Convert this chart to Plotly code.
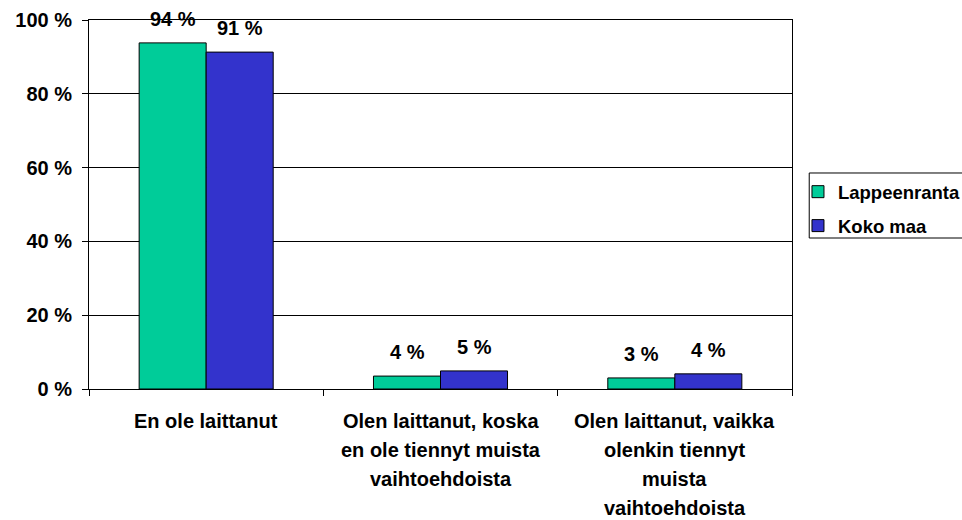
import plotly.graph_objects as go

categories = ["En ole laittanut",
              "Olen laittanut, koska<br>en ole tiennyt muista<br>vaihtoehdoista",
              "Olen laittanut, vaikka<br>olenkin tiennyt<br>muista<br>vaihtoehdoista"]
series_names = ["Lappeenranta", "Koko maa"]
lappeenranta = [93.8, 3.5, 3.0]
koko_maa = [91.3, 4.9, 4.1]
value_labels_lpr = ["94 %", "4 %", "3 %"]
value_labels_koko = ["91 %", "5 %", "4 %"]

FONT = "Liberation Sans, Arial, sans-serif"
fs = 20
fs_leg = 18.5

fig = go.Figure()
fig.add_trace(go.Bar(name=series_names[0], x=categories, y=lappeenranta, legend="legend",
                     marker=dict(color="#00CC99", line=dict(color="black", width=1))))
fig.add_trace(go.Bar(name=series_names[1], x=categories, y=koko_maa, legend="legend2",
                     marker=dict(color="#3333CC", line=dict(color="black", width=1))))

half_bar = 33.5
for cat, v, t in zip(categories, lappeenranta, value_labels_lpr):
    fig.add_annotation(x=cat, y=v, text=t, showarrow=False, xshift=-half_bar,
                       yanchor="bottom", yshift=11,
                       font=dict(family=FONT, size=fs, color="black", weight="bold"))
for cat, v, t in zip(categories, koko_maa, value_labels_koko):
    fig.add_annotation(x=cat, y=v, text=t, showarrow=False, xshift=half_bar,
                       yanchor="bottom", yshift=11,
                       font=dict(family=FONT, size=fs, color="black", weight="bold"))

# category labels, one annotation per line
for cat in categories:
    for i, line in enumerate(cat.split("<br>")):
        fig.add_annotation(x=cat, y=0, xref="x", yref="paper", text=line,
                           showarrow=False, yanchor="middle", yshift=-(31.5 + 29.3 * i),
                           font=dict(family=FONT, size=fs, color="black", weight="bold"))

# legend frame
fig.add_shape(type="rect", xref="paper", yref="paper",
              x0=1.0245, x1=1.3, y0=0.4092, y1=0.5854,
              line=dict(color="black", width=1), fillcolor="rgba(0,0,0,0)", layer="above")

leg_common = dict(xanchor="left", yanchor="top", borderwidth=0,
                  bgcolor="rgba(0,0,0,0)", itemwidth=30,
                  font=dict(family=FONT, size=fs_leg, color="black", weight="bold"))

fig.update_layout(
    width=962, height=520,
    margin=dict(l=89, r=170, t=20, b=131, autoexpand=False),
    paper_bgcolor="white", plot_bgcolor="white",
    barmode="group", bargap=0.428, bargroupgap=0,
    font=dict(family=FONT, size=fs, color="black", weight="bold"),
    showlegend=True,
    legend=dict(x=1.0085, y=0.585, **leg_common),
    legend2=dict(x=1.0085, y=0.493, **leg_common),
)
fig.update_xaxes(type="category", showline=True, linecolor="black", linewidth=1,
                 mirror=True, ticks="outside", tickson="boundaries", ticklen=6,
                 tickcolor="black", showticklabels=False, showgrid=False)
fig.update_yaxes(range=[0, 100], dtick=20, ticksuffix=" %", showline=True,
                 linecolor="black", linewidth=1, mirror=True, ticks="outside",
                 ticklen=6, tickcolor="black", showgrid=True, gridcolor="black",
                 gridwidth=1, zeroline=False, ticklabelstandoff=6,
                 tickfont=dict(family=FONT, size=fs, color="black", weight="bold"))

fig.write_html("out.html", config={"displayModeBar": False},
               post_script="document.body.style.margin='0';")
